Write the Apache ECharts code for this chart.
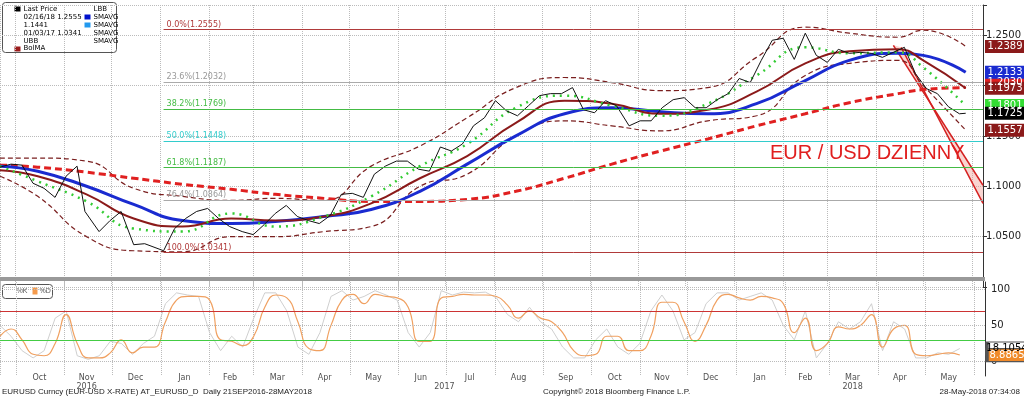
<!DOCTYPE html>
<html><head><meta charset="utf-8">
<script src="https://cdn.jsdelivr.net/npm/echarts@6/dist/echarts.min.js"></script>
<style>html,body{margin:0;background:#fff}#c{width:1024px;height:401px}</style></head>
<body><div id="c"></div>
<script>
const priceDates=['2016-09-21','2016-09-28','2016-10-05','2016-10-12','2016-10-19','2016-10-26','2016-11-02','2016-11-09','2016-11-14','2016-11-23','2016-11-30','2016-12-07','2016-12-15','2016-12-22','2017-01-03','2017-01-10','2017-01-17','2017-01-24','2017-01-31','2017-02-07','2017-02-14','2017-02-22','2017-03-01','2017-03-08','2017-03-15','2017-03-22','2017-03-29','2017-04-05','2017-04-12','2017-04-19','2017-04-26','2017-05-03','2017-05-10','2017-05-17','2017-05-24','2017-05-31','2017-06-07','2017-06-14','2017-06-21','2017-06-28','2017-07-05','2017-07-12','2017-07-19','2017-07-26','2017-08-02','2017-08-09','2017-08-16','2017-08-23','2017-08-30','2017-09-06','2017-09-13','2017-09-20','2017-09-27','2017-10-04','2017-10-11','2017-10-18','2017-10-26','2017-11-02','2017-11-09','2017-11-16','2017-11-23','2017-11-30','2017-12-07','2017-12-14','2017-12-21','2017-12-28','2018-01-04','2018-01-11','2018-01-18','2018-01-25','2018-02-01','2018-02-08','2018-02-15','2018-02-22','2018-03-01','2018-03-08','2018-03-15','2018-03-22','2018-03-29','2018-04-05','2018-04-12','2018-04-19','2018-04-26','2018-05-03','2018-05-10','2018-05-17','2018-05-24','2018-05-28'];
const priceValues=[1.119,1.122,1.121,1.103,1.098,1.089,1.110,1.120,1.075,1.055,1.066,1.075,1.042,1.043,1.036,1.058,1.068,1.075,1.078,1.068,1.060,1.055,1.052,1.062,1.073,1.081,1.070,1.066,1.063,1.071,1.092,1.093,1.089,1.112,1.120,1.125,1.125,1.117,1.115,1.139,1.135,1.142,1.160,1.168,1.185,1.175,1.170,1.180,1.190,1.192,1.192,1.198,1.176,1.173,1.185,1.180,1.160,1.165,1.165,1.178,1.186,1.188,1.178,1.178,1.186,1.192,1.207,1.203,1.225,1.245,1.247,1.226,1.252,1.230,1.223,1.236,1.232,1.233,1.232,1.228,1.233,1.238,1.212,1.197,1.192,1.179,1.172,1.1725];
const maDates=['2016-09-21','2016-10-15','2016-11-15','2016-12-15','2017-01-15','2017-02-15','2017-03-15','2017-04-15','2017-05-15','2017-06-15','2017-07-15','2017-08-15','2017-09-15','2017-10-15','2017-11-15','2017-12-15','2018-01-15','2018-02-15','2018-03-15','2018-04-15','2018-05-01','2018-05-28'];
const sma200=[1.121,1.119,1.114,1.108,1.102,1.097,1.092,1.088,1.085,1.085,1.087,1.095,1.108,1.122,1.135,1.147,1.160,1.172,1.183,1.192,1.196,1.198];
const sma100=[1.120,1.115,1.100,1.082,1.066,1.063,1.065,1.070,1.077,1.095,1.122,1.150,1.172,1.178,1.174,1.172,1.182,1.205,1.225,1.232,1.230,1.2133];
const sma50=[1.116,1.110,1.092,1.068,1.060,1.068,1.066,1.070,1.083,1.108,1.130,1.163,1.185,1.182,1.172,1.176,1.194,1.222,1.234,1.236,1.225,1.1973];
const sma20=[1.120,1.105,1.085,1.058,1.055,1.073,1.060,1.070,1.090,1.120,1.142,1.178,1.190,1.180,1.170,1.182,1.210,1.238,1.232,1.233,1.218,1.1801];
const bbUpper=[1.128,1.128,1.125,1.098,1.090,1.086,1.088,1.086,1.120,1.140,1.168,1.198,1.208,1.203,1.195,1.198,1.228,1.258,1.252,1.248,1.255,1.2389];
const bbLower=[1.110,1.090,1.050,1.036,1.035,1.050,1.050,1.055,1.060,1.100,1.112,1.150,1.165,1.160,1.155,1.165,1.170,1.210,1.222,1.225,1.200,1.1557];
const fibLevels=[1.2555,1.2032,1.1769,1.1448,1.1187,1.0864,1.0341];
const fibNames=['0.0%','23.6%','38.2%','50.0%','61.8%','76.4%','100.0%'];
const fibColors=['#b03a3a','#aaaaaa','#44bb44','#33cccc','#44bb44','#aaaaaa','#b03a3a'];
const channelUpper=[['2018-04-12',1.2400],['2018-06-08',1.1010]];
const channelLower=[['2018-04-17',1.2380],['2018-06-08',1.0830]];
const stochStart='2016-09-21';
const stochD=[35,45,30,10,8,25,65,25,5,5,12,30,12,20,20,55,85,90,90,85,30,28,22,35,75,92,88,55,18,15,50,85,93,80,93,90,88,75,28,28,88,90,93,92,92,90,78,60,70,60,55,40,15,8,10,35,35,15,15,35,82,82,55,28,50,85,93,88,85,90,88,80,40,60,15,25,48,45,50,65,20,45,50,10,8,10,12,9];
const stochK=[50,35,15,5,15,60,70,8,3,8,28,25,10,25,35,80,95,92,90,40,15,35,20,60,95,95,70,20,10,40,90,98,85,90,98,92,85,40,20,40,98,92,96,95,96,88,65,55,75,55,45,20,5,5,30,45,20,10,25,70,92,70,30,40,80,95,95,85,90,95,85,50,30,70,5,25,55,45,55,80,15,55,45,5,5,12,10,18];
const monthLabels=['Oct','Nov','Dec','Jan','Feb','Mar','Apr','May','Jun','Jul','Aug','Sep','Oct','Nov','Dec','Jan','Feb','Mar','Apr','May'];
const monthMid=['2016-10-16','2016-11-15','2016-12-16','2017-01-16','2017-02-14','2017-03-16','2017-04-15','2017-05-16','2017-06-15','2017-07-16','2017-08-16','2017-09-15','2017-10-16','2017-11-15','2017-12-16','2018-01-16','2018-02-14','2018-03-16','2018-04-15','2018-05-16'];
const yearLabels=['2016','2017','2018'];
const yearPos=['2016-11-15','2017-06-30','2018-03-16'];

const pair=(d,v)=>d.map((x,i)=>[x,v[i]]);
const dayMs=86400000, s0=new Date(stochStart).getTime();
const stochDates=stochD.map((_,i)=>s0+i*7*dayMs);
const XMIN='2016-09-21', XMAX='2018-06-08';
const endBox=(v,bg,fg)=>({coord:[XMAX,v],value:v.toFixed(4),symbol:'rect',symbolSize:[40,13],symbolOffset:[22,0],itemStyle:{color:bg},label:{show:true,color:fg||'#fff',fontSize:10,fontFamily:'DejaVu Sans',formatter:v.toFixed(4)}});
const xBase={type:'time',min:XMIN,max:XMAX,axisLabel:{show:false},axisTick:{show:false},axisLine:{show:false},
  splitLine:{show:true,lineStyle:{color:'#bbb',type:'dotted'}},minInterval:28*dayMs,maxInterval:31*dayMs};
const chart=echarts.init(document.getElementById('c'));
const ln=(name,data,color,width,type,extra)=>Object.assign({type:'line',name,data,showSymbol:false,smooth:true,lineStyle:{color,width,type},itemStyle:{color},z:3},extra||{});
const lt=(x,y,t)=>({type:'text',style:{x,y,text:t,fontSize:7,fill:'#000',fontFamily:'DejaVu Sans'}});
chart.setOption({
  animation:false,
  textStyle:{fontFamily:'DejaVu Sans'},
  grid:[{left:0,right:39,top:5,height:282},{left:0,right:39,top:282,height:94},{left:0,right:39,top:376,height:1}],
  xAxis:[Object.assign({gridIndex:0},xBase),Object.assign({gridIndex:1},xBase),Object.assign({gridIndex:2},xBase,{splitLine:{show:false}})],
  yAxis:[
    {gridIndex:0,type:'value',position:'right',min:1.0,max:1.28,interval:0.05,axisLine:{show:true,lineStyle:{color:'#333'}},axisTick:{show:true,inside:false,length:4},
      axisLabel:{formatter:v=>v>1.01&&v<1.27?v.toFixed(4):'',fontSize:10,color:'#222',margin:3},splitLine:{lineStyle:{color:'#bbb',type:'dotted'}}},
    {gridIndex:1,type:'value',position:'right',min:-20,max:110,interval:10,axisLine:{show:true,lineStyle:{color:'#333'}},axisTick:{show:false},
      axisLabel:{formatter:v=>(v===0||v===50||v===100)?String(v):'',fontSize:10,color:'#222',margin:6},splitLine:{show:false}},
    {gridIndex:2,type:'value',min:0,max:1,show:false}
  ],
  graphic:[
    {type:'rect',shape:{x:0,y:277,width:985,height:4},style:{fill:'#999'},z:10},
    {type:'group',left:2,top:2,z:20,children:[
      {type:'rect',shape:{x:0,y:0,width:114,height:50,r:3},style:{fill:'#fff',stroke:'#555',lineWidth:1}},
      {type:'rect',shape:{x:12,y:4,width:6,height:5},style:{fill:'#000'}},
      lt(21,3,'Last Price'),lt(21,11,'02/16/18 1.2555'),lt(21,19,'1.1441'),lt(21,27,'01/03/17 1.0341'),lt(21,35,'UBB'),
      {type:'rect',shape:{x:12,y:44,width:6,height:5},style:{fill:'#9b1b1b'}},
      lt(21,42,'BolMA'),
      lt(91,3,'LBB'),
      {type:'rect',shape:{x:82,y:12,width:6,height:5},style:{fill:'#0011cc'}},lt(91,11,'SMAVG'),
      {type:'rect',shape:{x:82,y:20,width:6,height:5},style:{fill:'#2299ee'}},lt(91,19,'SMAVG'),
      lt(91,27,'SMAVG'),lt(91,35,'SMAVG')
    ]},
    {type:'group',left:2,top:284,z:20,children:[
      {type:'rect',shape:{x:0,y:0,width:50,height:14,r:3},style:{fill:'#fff',stroke:'#555'}},
      {type:'text',style:{x:14,y:3,text:'%K',fontSize:7,fill:'#555'}},
      {type:'rect',shape:{x:30,y:3,width:5,height:7},style:{fill:'#f59b4c'}},
      {type:'text',style:{x:37,y:3,text:'%D',fontSize:7,fill:'#555'}}
    ]},
    {type:'text',left:770,top:143,style:{text:'EUR / USD DZIENNY',fontSize:20,fill:'#e01e1e',fontFamily:'Liberation Sans'},z:20},
    {type:'text',left:2,top:388,style:{text:'EURUSD Curncy (EUR-USD X-RATE) AT_EURUSD_D  Daily 21SEP2016-28MAY2018',fontSize:8,fill:'#222'}},
    {type:'text',left:543,top:388,style:{text:'Copyright\u00a9 2018 Bloomberg Finance L.P.',fontSize:8,fill:'#222'}},
    {type:'text',right:4,top:388,style:{text:'28-May-2018 07:34:08',fontSize:8,fill:'#222'}}
  ],
  series:[
    {type:'custom',xAxisIndex:0,yAxisIndex:0,data:[0],z:2,clip:true,renderItem:(p,api)=>{
      const pts=[api.coord(channelUpper[0]),api.coord(channelUpper[1]),api.coord(channelLower[1]),api.coord(channelLower[0])];
      return {type:'group',children:[
        {type:'polygon',shape:{points:pts},style:{fill:'rgba(240,150,140,0.4)'}},
        {type:'line',shape:{x1:pts[0][0],y1:pts[0][1],x2:pts[1][0],y2:pts[1][1]},style:{stroke:'#d42020',lineWidth:1.5}},
        {type:'line',shape:{x1:pts[3][0],y1:pts[3][1],x2:pts[2][0],y2:pts[2][1]},style:{stroke:'#d42020',lineWidth:1.5}}]};
    }},
    ln('fib',[],'#000',1,'solid',{markLine:{symbol:'none',silent:true,data:fibLevels.map((v,i)=>[{coord:['2017-01-03',v],lineStyle:{color:fibColors[i],type:'solid',width:1},
        label:{show:true,position:'insideStartTop',formatter:fibNames[i]+'('+v.toFixed(4)+')',color:fibColors[i]==='#aaaaaa'?'#999':fibColors[i],fontSize:8,distance:[3,1]}},{coord:[XMAX,v]}])}}),
    ln('UBB',pair(maDates,bbUpper),'#7a1f1f',1.2,[5,3],{markPoint:{data:[endBox(1.2389,'#8b1a1a')]}}),
    ln('LBB',pair(maDates,bbLower),'#7a1f1f',1.2,[5,3],{markPoint:{data:[endBox(1.1557,'#8b1a1a')]}}),
    ln('SMA200',pair(maDates,sma200),'#e02020',3,[7,4],{markPoint:{data:[endBox(1.2030,'#e02020')]}}),
    ln('SMA100',pair(maDates,sma100),'#1a2bd0',3,'solid',{markPoint:{data:[endBox(1.2133,'#1a2bd0')]}}),
    ln('BolMA',pair(maDates,sma50),'#8b1a1a',2,'solid',{markPoint:{data:[endBox(1.1973,'#8b1a1a')]}}),
    ln('SMA20',pair(maDates,sma20),'#33cc33',2.5,[2,5],{markPoint:{data:[endBox(1.1801,'#33dd33','#fff')]}}),
    ln('Last Price',pair(priceDates,priceValues),'#111',1,'solid',{smooth:false,z:4,markPoint:{data:[endBox(1.1725,'#000')]}}),
    {type:'line',xAxisIndex:1,yAxisIndex:1,data:stochDates.map((d,i)=>[d,stochK[i]]),showSymbol:false,lineStyle:{color:'#cfcfcf',width:1},z:2,
      markLine:{symbol:'none',silent:true,label:{show:false},data:[
        {yAxis:70,lineStyle:{color:'#cc3333',type:'solid',width:1}},{yAxis:30,lineStyle:{color:'#44cc44',type:'solid',width:1}},
        {yAxis:100,lineStyle:{color:'#bbb',type:'dotted'}},{yAxis:50,lineStyle:{color:'#bbb',type:'dotted'}},{yAxis:0,lineStyle:{color:'#bbb',type:'dotted'}}]}},
    {type:'line',xAxisIndex:1,yAxisIndex:1,data:stochDates.map((d,i)=>[d,stochD[i]]),showSymbol:false,smooth:true,lineStyle:{color:'#f0a060',width:1.2},z:3,
      markPoint:{data:[endBox(18.1054,'#fff','#000'),endBox(8.8865,'#f08a2a','#fff')].map(o=>(o.itemStyle.borderColor='#555',o))}},
    {type:'scatter',xAxisIndex:2,yAxisIndex:2,data:monthMid.map((d,i)=>[d,1,monthLabels[i]]),symbolSize:0,clip:false,
      label:{show:true,position:'inside',formatter:p=>p.data[2],fontSize:8,color:'#222',offset:[0,2]}},
    {type:'scatter',xAxisIndex:2,yAxisIndex:2,data:yearPos.map((d,i)=>[d,1,yearLabels[i]]),symbolSize:0,clip:false,
      label:{show:true,position:'inside',formatter:p=>p.data[2],fontSize:8,color:'#222',offset:[0,11]}}
  ]
});
</script></body></html>
